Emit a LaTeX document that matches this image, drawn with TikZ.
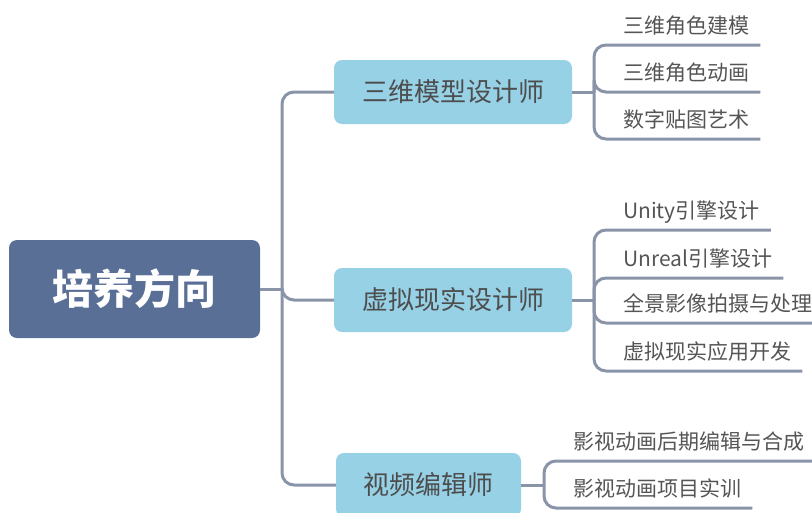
\documentclass[tikz,border=0pt]{standalone}
\usepackage{fontspec}
\setmainfont{Noto Sans CJK SC}
\usepackage{xcolor}
\definecolor{rootblue}{HTML}{5A6F96}
\definecolor{boxblue}{HTML}{97D1E6}
\definecolor{linegray}{HTML}{8A94A8}
\definecolor{textgray}{HTML}{4D4D4D}
\definecolor{leafgray}{HTML}{555555}

\begin{document}
\begin{tikzpicture}[x=1pt, y=-1pt,
  rootbox/.style={rectangle, rounded corners=8pt, fill=rootblue, text=white,
    font=\bfseries\fontsize{41}{41}\selectfont, minimum width=251pt, minimum height=98pt},
  midbox/.style={rectangle, rounded corners=8pt, fill=boxblue, text=textgray,
    font=\fontsize{26}{26}\selectfont, minimum height=64pt},
  leaf/.style={anchor=south west, inner sep=0pt, text depth=11pt, text=leafgray,
    font=\fontsize{21}{21}\selectfont},
  conn/.style={draw=linegray, line width=3pt, rounded corners=12pt}]
  \useasboundingbox (0,0) rectangle (812,512);
  \clip (0,0) rectangle (812,512);

  \node[rootbox] (root) at (134.5,289) {培养方向};

  \node[midbox, minimum width=238pt] (m1) at (453,92) {三维模型设计师};
  \node[midbox, minimum width=238pt] (m2) at (453,300) {虚拟现实设计师};
  \node[midbox, minimum width=185pt] (m3) at (428.5,485) {视频编辑师};

  \coordinate (trunk) at (282,289);
  \draw[conn] (root.east) -- (trunk);
  \draw[conn] (trunk) |- (m1.west);
  \draw[conn] (trunk) |- (m2.west);
  \draw[conn] (trunk) |- (m3.west);

  % 三维模型设计师
  \node[leaf] (l11) at (623,45) {三维角色建模};
  \node[leaf] (l12) at (623,92) {三维角色动画};
  \node[leaf] (l13) at (623,139) {数字贴图艺术};

  \coordinate (b1) at (594,92);
  \draw[conn] (m1.east) -- (b1);
  \draw[conn] (b1) |- ([xshift=11pt]l11.south east);
  \draw[conn] (b1) |- ([xshift=11pt]l12.south east);
  \draw[conn] (b1) |- ([xshift=11pt]l13.south east);

  % 虚拟现实设计师
  \node[leaf] (l21) at (623,230) {Unity引擎设计};
  \node[leaf] (l22) at (623,278) {Unreal引擎设计};
  \node[leaf] (l23) at (623,323) {全景影像拍摄与处理};
  \node[leaf] (l24) at (623,371) {虚拟现实应用开发};

  \coordinate (b2) at (594,300);
  \draw[conn] (m2.east) -- (b2);
  \draw[conn] (b2) |- ([xshift=11pt]l21.south east);
  \draw[conn] (b2) |- ([xshift=11pt]l22.south east);
  \draw[conn] (b2) |- ([xshift=11pt]l23.south east);
  \draw[conn] (b2) |- ([xshift=11pt]l24.south east);

  % 视频编辑师
  \node[leaf] (l31) at (573,461) {影视动画后期编辑与合成};
  \node[leaf] (l32) at (573,508) {影视动画项目实训};

  \coordinate (b3) at (544,485);
  \draw[conn] (m3.east) -- (b3);
  \draw[conn] (b3) |- ([xshift=11pt]l31.south east);
  \draw[conn] (b3) |- ([xshift=11pt]l32.south east);
\end{tikzpicture}
\end{document}
